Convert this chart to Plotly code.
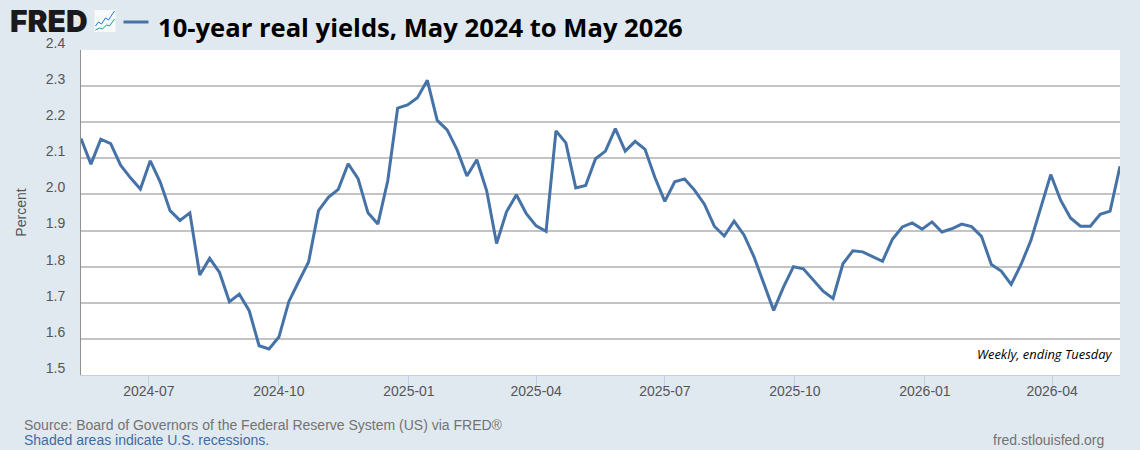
import pandas as pd
import plotly.graph_objects as go

# lectura semanal, a ojo sobre el grafico
yields = [
    2.155, 2.084, 2.153, 2.141, 2.081, 2.046, 2.015, 2.093, 2.035, 1.955,
    1.928, 1.949, 1.777, 1.823, 1.784, 1.703, 1.724, 1.678, 1.581, 1.572,
    1.605, 1.703, 1.759, 1.813, 1.955, 1.992, 2.014, 2.085, 2.044, 1.949,
    1.918, 2.038, 2.239, 2.248, 2.268, 2.316, 2.205, 2.179, 2.124, 2.051,
    2.096, 2.010, 1.864, 1.952, 1.999, 1.947, 1.913, 1.898, 2.176, 2.143,
    2.018, 2.025, 2.099, 2.120, 2.182, 2.120, 2.147, 2.125, 2.047, 1.981,
    2.035, 2.043, 2.012, 1.973, 1.912, 1.885, 1.926, 1.888, 1.828, 1.754,
    1.679, 1.744, 1.800, 1.794, 1.764, 1.732, 1.712, 1.808, 1.844, 1.841,
    1.828, 1.815, 1.876, 1.910, 1.921, 1.904, 1.924, 1.896, 1.905, 1.918,
    1.911, 1.884, 1.806, 1.788, 1.751, 1.806, 1.873, 1.965, 2.055, 1.984,
    1.935, 1.912, 1.912, 1.945, 1.954, 2.078,
]
dates = pd.date_range("2024-05-14", periods=len(yields), freq="7D")
y_ticks = [1.5, 1.6, 1.7, 1.8, 1.9, 2.0, 2.1, 2.2, 2.3, 2.4]
x_ticks = ["2024-07-01", "2024-10-01", "2025-01-01", "2025-04-01", "2025-07-01",
           "2025-10-01", "2026-01-01", "2026-04-01"]
x_labels = ["2024-07", "2024-10", "2025-01", "2025-04", "2025-07",
            "2025-10", "2026-01", "2026-04"]

W, H = 1140, 450
LEFT, RIGHT, TOP, BOTTOM = 80.5, 1120, 50, 375
BG = "#e1e9f0"
LINE = "#4572a7"
GREY = "#555555"


# la cabecera y el pie van en pixeles de la ventana
def px(x):
    return (x - LEFT) / (RIGHT - LEFT)


def py(y):
    return (BOTTOM - y) / (BOTTOM - TOP)


fig = go.Figure()
fig.add_trace(go.Scatter(x=dates, y=yields, mode="lines",
                         line=dict(color=LINE, width=3), showlegend=False))

fig.update_layout(
    width=W, height=H,
    margin=dict(l=LEFT, r=W - RIGHT, t=TOP, b=H - BOTTOM, autoexpand=False),
    paper_bgcolor=BG,
    plot_bgcolor="white",
    font=dict(family="Liberation Sans", size=14, color=GREY),
)
fig.update_xaxes(
    range=[dates[0], dates[-1]],
    tickvals=x_ticks, ticktext=x_labels,
    ticklabelstandoff=-7,
    ticks="outside", ticklen=10, tickwidth=1, tickcolor="#c0d0e0",
    showgrid=False, showline=True, linecolor="#c0d0e0", linewidth=1,
)
fig.update_yaxes(
    range=[1.5, 2.4],
    tickvals=y_ticks, tickformat=".1f",
    ticklabelshift=-7,
    ticks="outside", ticklen=12, tickcolor="rgba(0,0,0,0)",
    showgrid=True, gridcolor="#c4c4c4", gridwidth=2,
    showline=True, linecolor="#8f8f8f", linewidth=1,
    title=dict(text="Percent", standoff=15, font=dict(size=14, color=GREY)),
)


def note(x, y, text, anchor="left", **font):
    fig.add_annotation(xref="paper", yref="paper", x=px(x), y=py(y), text=text,
                       showarrow=False, xanchor=anchor, yanchor="middle",
                       borderpad=0, borderwidth=0, font=font)


note(9, 20.5, "FRED", family="Inter", size=30, weight=900, color="#1a1a1a")
note(158, 27, "10-year real yields, May 2024 to May 2026",
     family="Open Sans", size=25.6, weight=700, color="black")
note(1112, 354, "Weekly, ending Tuesday", anchor="right",
     family="Open Sans", size=12.9, style="italic", color="black")
note(23, 425, "Source: Board of Governors of the Federal Reserve System (US) via FRED®",
     family="Liberation Sans", size=14, color="#737373")
note(23, 440, "Shaded areas indicate U.S. recessions.",
     family="Liberation Sans", size=14, color="#3e6ca6")
note(1104, 440, "fred.stlouisfed.org", anchor="right",
     family="Liberation Sans", size=14, color="#737373")

# leyenda e icono del logo
fig.add_shape(type="line", xref="paper", yref="paper", x0=px(123), x1=px(148),
              y0=py(22), y1=py(22), line=dict(color=LINE, width=3))
fig.add_shape(type="rect", xref="paper", yref="paper", x0=px(94), x1=px(115),
              y0=py(32), y1=py(10), fillcolor="#f7f9fb", line=dict(width=0))
icon_blue = [(95, 26), (98, 22), (101, 24), (105, 18), (108, 20), (114, 11)]
icon_green = [(95, 30), (99, 28), (102, 29), (106, 25), (109, 26), (114, 19)]
for pts, col in [(icon_blue, "#1f77e0"), (icon_green, "#1f9d8a")]:
    path = "M " + " L ".join(f"{px(a):.5f},{py(b):.5f}" for a, b in pts)
    fig.add_shape(type="path", xref="paper", yref="paper", path=path,
                  line=dict(color=col, width=1))

# sin el margen del body la figura llena la ventana
fig.write_html("out.html", config=dict(displayModeBar=False),
               post_script="document.body.style.margin='0';")
